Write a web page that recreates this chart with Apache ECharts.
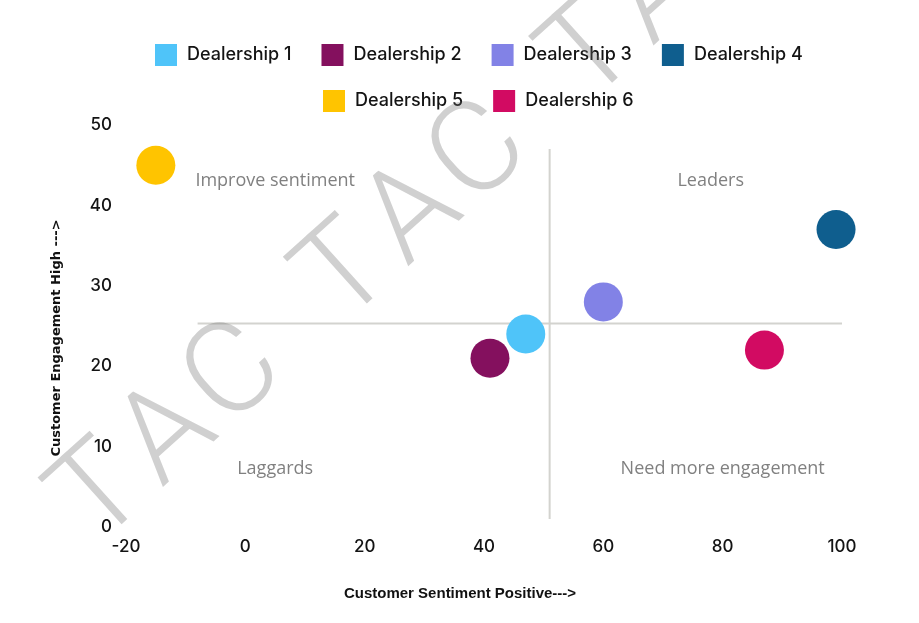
<!DOCTYPE html>
<html>
<head>
<meta charset="utf-8">
<script src="https://cdn.jsdelivr.net/npm/echarts@6/dist/echarts.min.js"></script>
<style>
html,body{margin:0;padding:0;background:#fff;}
#chart{width:919px;height:623px;}
</style>
</head>
<body>
<div id="chart"></div>
<script>
// ---- data ----
const seriesNames = ['Dealership 1','Dealership 2','Dealership 3','Dealership 4','Dealership 5','Dealership 6'];
const sentimentValues = [47, 41, 60, 99, -15, 87];   // x
const engagementValues = [24, 21, 28, 37, 45, 22];   // y
const seriesColors = ['#4fc4f9','#84105e','#8282e6','#0f5e8e','#ffc400','#d20b62'];
const xTicks = [-20, 0, 20, 40, 60, 80, 100];
const yTicks = [0, 10, 20, 30, 40, 50];
const quadrantNames = ['Improve sentiment','Leaders','Laggards','Need more engagement'];
const quadrantX = [5, 78, 5, 80];
const quadrantY = [43, 43, 7.2, 7.2];
const hLineX = [-8, 100];
const hLineY = [25.3, 25.3];
const vLineX = [51, 51];
const vLineY = [1, 47];
const watermarkLetters = ['T','A','C','T','A','C','T','A'];

const chart = echarts.init(document.getElementById('chart'), null, {renderer:'canvas'});

const scatterSeries = seriesNames.map((n, i) => ({
  name: n,
  type: 'scatter',
  symbolSize: 39,
  z: 5,
  itemStyle: {color: seriesColors[i], opacity: 1},
  data: [[sentimentValues[i], engagementValues[i]]]
}));

const wmPos = [0, 90, 180, 330, 420, 510, 660, 750];
const tickFont = {fontFamily: 'Inter', fontWeight: 500, fontSize: 17, color: '#141414'};
const legendText = {fontFamily: 'Inter', fontWeight: 500, fontSize: 18, color: '#141414', padding: [0,0,0,5]};

const option = {
  animation: false,
  backgroundColor: '#ffffff',
  grid: {left: 126, right: 77, top: 125, bottom: 96, containLabel: false},
  legend: [
    {
      data: seriesNames.slice(0, 4),
      left: 150, top: 39,
      itemWidth: 22, itemHeight: 22, itemGap: 30,
      icon: 'rect',
      textStyle: legendText
    },
    {
      data: seriesNames.slice(4),
      left: 318, top: 85,
      itemWidth: 22, itemHeight: 22, itemGap: 30,
      icon: 'rect',
      textStyle: legendText
    }
  ],
  xAxis: {
    type: 'value', min: xTicks[0], max: xTicks[xTicks.length-1], interval: 20,
    axisLine: {show: false}, axisTick: {show: false}, splitLine: {show: false},
    axisLabel: Object.assign({margin: 11}, tickFont),
    name: 'Customer Sentiment Positive--->',
    nameLocation: 'middle', nameGap: 59,
    nameTextStyle: {fontFamily: 'Liberation Sans', fontWeight: 'bold', fontSize: 15, color: '#111', padding: [0, 48, 0, 0]}
  },
  yAxis: {
    type: 'value', min: yTicks[0], max: yTicks[yTicks.length-1], interval: 10,
    axisLine: {show: false}, axisTick: {show: false}, splitLine: {show: false},
    axisLabel: Object.assign({margin: 14}, tickFont),
    name: 'Customer Engagement High --->',
    nameLocation: 'middle', nameGap: 63,
    nameTextStyle: {fontFamily: 'DejaVu Sans', fontWeight: 'bold', fontSize: 13, color: '#111', padding: [0, 24, 0, 0]}
  },
  series: [
    {
      type: 'line', name: 'hline', silent: true, symbol: 'none', z: 1,
      lineStyle: {color: '#d3d3cf', width: 2},
      data: hLineX.map((x, i) => [x, hLineY[i]])
    },
    {
      type: 'line', name: 'vline', silent: true, symbol: 'none', z: 1,
      lineStyle: {color: '#d3d3cf', width: 2},
      data: vLineX.map((x, i) => [x, vLineY[i]])
    },
    {
      type: 'scatter', name: 'quadrants', silent: true, symbolSize: 0, z: 2,
      label: {show: true, position: 'inside', formatter: p => p.data[2],
        fontFamily: 'Open Sans', fontSize: 18, color: '#606060'},
      data: quadrantNames.map((n, i) => [quadrantX[i], quadrantY[i], n])
    },
    ...scatterSeries
  ],
  graphic: [
    {
      type: 'group',
      x: 103, y: 498,
      rotation: 42 * Math.PI / 180,
      z: 100,
      silent: true,
      children: watermarkLetters.map((ch, i) => ({
        type: 'text',
        x: wmPos[i], y: 0,
        z: 100,
        style: {
          text: ch,
          fill: 'rgba(110,110,110,0.32)',
          font: '300 128px Roboto',
          textAlign: 'center', textVerticalAlign: 'middle',
          align: 'center', verticalAlign: 'middle'
        }
      }))
    }
  ]
};
chart.setOption(option);
</script>
</body>
</html>
